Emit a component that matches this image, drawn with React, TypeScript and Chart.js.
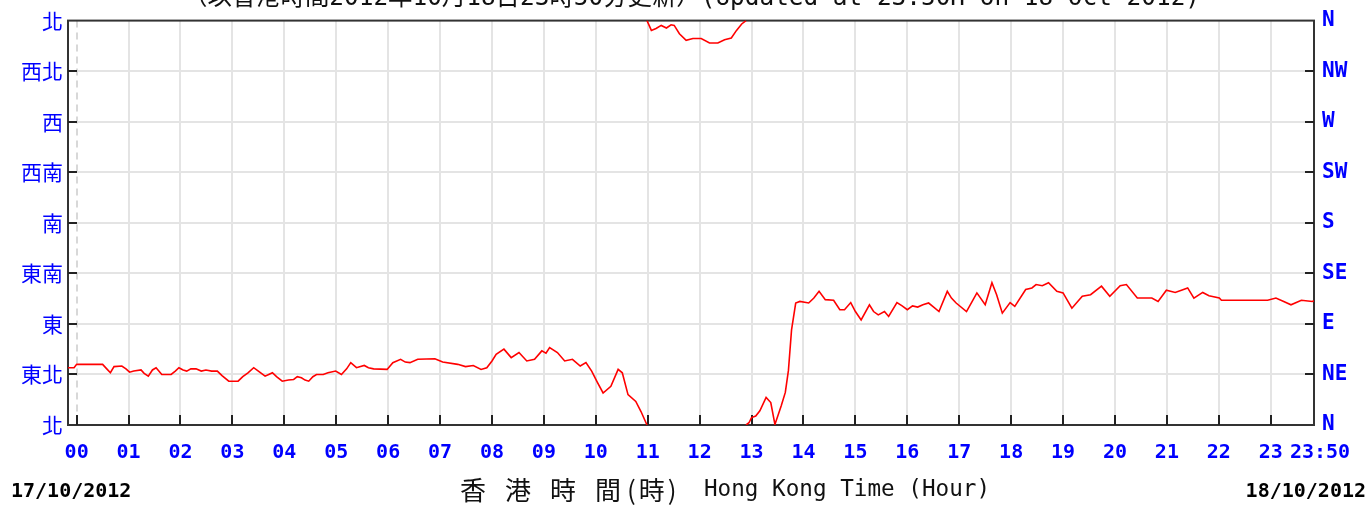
import React, { useEffect, useRef } from 'react';
import { Chart, registerables } from 'chart.js';

Chart.register(...registerables);

// Time (hours from 00:00 on 17/10/2012) and wind direction (degrees)
const HOURS = [
  -0.17, -0.05, 0.0, 0.25, 0.5, 0.58, 0.65, 0.72, 0.87, 0.95, 1.02, 1.1, 1.24, 1.3, 1.38, 1.46, 1.53, 1.64, 1.82, 1.9,
  1.97, 2.05, 2.12, 2.2, 2.3, 2.4, 2.49, 2.6, 2.71, 2.8, 2.93, 3.11, 3.2, 3.3, 3.41, 3.5, 3.63, 3.7, 3.77, 3.85,
  3.96, 4.08, 4.18, 4.25, 4.33, 4.4, 4.47, 4.55, 4.62, 4.75, 4.84, 4.99, 5.1, 5.2, 5.28, 5.39, 5.54, 5.62, 5.72, 5.98,
  6.09, 6.24, 6.33, 6.42, 6.57, 6.9, 7.05, 7.34, 7.49, 7.64, 7.79, 7.9, 8.0, 8.08, 8.23, 8.37, 8.52, 8.67, 8.82, 8.96,
  9.04, 9.11, 9.26, 9.4, 9.55, 9.7, 9.81, 9.92, 10.03, 10.14, 10.29, 10.43, 10.51, 10.62, 10.77, 10.87,
  11.07, 11.16, 11.26, 11.36, 11.45, 11.51, 11.61, 11.74, 11.87, 12.03, 12.19, 12.35, 12.48, 12.61, 12.71, 12.81,
  12.95, 13.0, 13.08, 13.16, 13.28, 13.37, 13.45, 13.57, 13.65, 13.71, 13.77, 13.85, 13.93, 14.1, 14.2, 14.3, 14.42,
  14.58, 14.7, 14.79, 14.91, 15.0, 15.11, 15.27, 15.35, 15.44, 15.56, 15.64, 15.8, 15.9, 16.0, 16.1, 16.2, 16.3,
  16.41, 16.49, 16.61, 16.77, 16.85, 16.94, 17.14, 17.25, 17.34, 17.5, 17.63, 17.72, 17.83, 17.98, 18.07, 18.28,
  18.4, 18.48, 18.6, 18.72, 18.88, 19.0, 19.17, 19.37, 19.53, 19.74, 19.9, 20.1, 20.22, 20.43, 20.71, 20.83, 20.99,
  21.16, 21.28, 21.4, 21.52, 21.69, 21.81, 22.01, 22.05, 22.54, 22.94, 23.1, 23.25, 23.39, 23.59, 23.8, 23.83,
];

const DIRECTIONS = [
  51, 51, 54, 54, 54, 50, 46.5, 52, 52.5, 50, 47, 48, 49, 46, 43.5, 49, 51, 45, 45, 48,
  51, 49, 48, 50, 50, 48, 49, 48, 48, 44, 39, 39, 43, 46.5, 51, 48, 43.5, 45, 46.5, 43,
  39, 40, 40.5, 43, 42, 40, 39, 43, 45, 45, 46.5, 48, 45, 50, 55.5, 51, 53, 51, 50, 49.5,
  55.5, 58.5, 56, 55.5, 58.5, 59, 56, 54, 52, 53, 49.5, 51, 57, 63, 67.5, 60, 64.5, 57, 58.5, 66,
  64, 69, 64.5, 57, 58.5, 52.5, 55.5, 48, 38, 28.5, 34.5, 49.5, 46.5, 27, 21, 12,
  351.3, 353, 355.7, 353.4, 356.3, 355.7, 348.3, 342.5, 344, 344, 340, 340, 343, 344.5, 351.3, 357,
  2, 6.6, 8, 12.6, 24.6, 20, 0.5, 17, 29, 48.6, 84.6, 108.6, 110, 108.6, 113, 119, 111.6,
  111, 102.6, 102.6, 109, 101, 93.6, 107, 101, 98, 101, 96.6, 109, 106, 102.6, 106, 105, 107,
  108.6, 105.6, 101, 119, 113, 108.6, 101, 110, 117.6, 107, 126.6, 116, 99.6, 109, 105.6, 120.6,
  122, 125, 124, 126.6, 119, 117.6, 104, 114.6, 116, 123.6, 114.6, 124, 125, 113, 113, 110, 120,
  118, 120, 122, 113, 118, 115, 113, 111, 111, 111, 113, 110, 107, 111, 110, 110.5,
];

const X_MIN = -10 / 60;
const X_MAX = 23 + 50 / 60;
const X_TICKS = [0, 1, 2, 3, 4, 5, 6, 7, 8, 9, 10, 11, 12, 13, 14, 15, 16, 17, 18, 19, 20, 21, 22, 23, 23 + 50 / 60];
const X_TICK_LABELS = [
  '00', '01', '02', '03', '04', '05', '06', '07', '08', '09', '10', '11',
  '12', '13', '14', '15', '16', '17', '18', '19', '20', '21', '22', '23', ' 23:50',
];
const LEFT_LABELS = ['北', '東北', '東', '東南', '南', '西南', '西', '西北', '北'];
const RIGHT_LABELS = ['N', 'NE', 'E', 'SE', 'S', 'SW', 'W', 'NW', 'N'];
const DIR_STEP = 45;

const TITLE = '（以香港時間2012年10月18日23時50分更新）(Updated at 23:50H on 18 Oct 2012)';
const START_DATE = '17/10/2012';
const END_DATE = '18/10/2012';
const AXIS_TITLE_ZH_MAIN = '香港時間';
const AXIS_TITLE_ZH_UNIT = '(時)';
const AXIS_TITLE_EN = 'Hong Kong Time (Hour)';

const BLUE = '#0000ff';
const MONO = '"DejaVu Sans Mono", "Noto Sans CJK TC", monospace';
const CJK = '"Noto Sans CJK TC", "Noto Sans CJK SC", sans-serif';

function buildPoints() {
  const pts: { x: number; y: number | null }[] = [];
  for (let i = 0; i < HOURS.length; i++) {
    if (i > 0) {
      const d0 = DIRECTIONS[i - 1];
      const d1 = DIRECTIONS[i];
      const diff = d1 - d0;
      if (Math.abs(diff) > 180) {
        const h0 = HOURS[i - 1];
        const h1 = HOURS[i];
        const unwrapped = diff > 0 ? d1 - 360 : d1 + 360;
        const edge = diff > 0 ? 0 : 360;
        const t = (edge - d0) / (unwrapped - d0);
        const hc = h0 + t * (h1 - h0);
        pts.push({ x: hc, y: edge }, { x: hc, y: null }, { x: hc, y: 360 - edge });
      }
    }
    pts.push({ x: HOURS[i], y: DIRECTIONS[i] });
  }
  return pts;
}

const framePlugin = {
  id: 'frameAndGrid',
  beforeDatasetsDraw(chart: any) {
    const { ctx, chartArea: a, scales } = chart;
    const xs = scales.x;
    const ys = scales.y;
    ctx.save();
    // horizontal grid
    ctx.strokeStyle = '#e4e4e4';
    ctx.lineWidth = 2;
    for (let v = DIR_STEP; v < 360; v += DIR_STEP) {
      const y = Math.round(ys.getPixelForValue(v));
      ctx.beginPath();
      ctx.moveTo(a.left, y);
      ctx.lineTo(a.right, y);
      ctx.stroke();
    }
    // vertical grid
    for (let h = 0; h <= 23; h++) {
      const x = Math.round(xs.getPixelForValue(h));
      ctx.setLineDash(h === 0 ? [7, 5] : []);
      ctx.strokeStyle = h === 0 ? '#d8d8d8' : '#e4e4e4';
      ctx.beginPath();
      ctx.moveTo(x, a.top);
      ctx.lineTo(x, a.bottom);
      ctx.stroke();
    }
    ctx.setLineDash([]);
    // frame
    ctx.strokeStyle = '#333333';
    ctx.lineWidth = 2;
    ctx.strokeRect(a.left, a.top, a.right - a.left, a.bottom - a.top);
    // inside ticks
    ctx.strokeStyle = '#222222';
    for (let v = DIR_STEP; v < 360; v += DIR_STEP) {
      const y = Math.round(ys.getPixelForValue(v));
      ctx.beginPath();
      ctx.moveTo(a.left, y);
      ctx.lineTo(a.left + 9, y);
      ctx.moveTo(a.right - 9, y);
      ctx.lineTo(a.right, y);
      ctx.stroke();
    }
    for (let h = 0; h <= 23; h++) {
      const x = Math.round(xs.getPixelForValue(h));
      ctx.beginPath();
      ctx.moveTo(x, a.bottom);
      ctx.lineTo(x, a.bottom - 10);
      ctx.stroke();
    }
    ctx.restore();
  },
  afterDraw(chart: any) {
    const { ctx } = chart;
    ctx.save();
    // Title (partly cut at the top)
    ctx.fillStyle = '#111111';
    ctx.font = `25px ${MONO}`;
    ctx.textAlign = 'left';
    ctx.textBaseline = 'alphabetic';
    ctx.fillText(TITLE, 183, 5, 1017);

    // Dates
    ctx.font = `bold 20px ${MONO}`;
    ctx.textBaseline = 'middle';
    ctx.fillStyle = '#000000';
    ctx.textAlign = 'left';
    ctx.fillText(START_DATE, 11, 492, 121);
    ctx.textAlign = 'right';
    ctx.fillText(END_DATE, 1366, 492, 121);

    // Axis title
    ctx.textAlign = 'left';
    ctx.fillStyle = '#111111';
    ctx.font = `26px ${CJK}`;
    (ctx as any).letterSpacing = '19px';
    ctx.fillText(AXIS_TITLE_ZH_MAIN, 460, 490);
    (ctx as any).letterSpacing = '3px';
    ctx.fillText(AXIS_TITLE_ZH_UNIT, 627, 490);
    (ctx as any).letterSpacing = '0px';
    ctx.font = `23px ${MONO}`;
    ctx.fillText(AXIS_TITLE_EN, 704, 490, 286);
    ctx.restore();
  },
};

export default function App() {
  const ref = useRef<HTMLCanvasElement | null>(null);

  useEffect(() => {
    if (!ref.current) return;
    const chart = new Chart(ref.current, {
      type: 'line',
      data: {
        datasets: [
          {
            data: buildPoints() as any,
            borderColor: '#ff0000',
            borderWidth: 1.6,
            pointRadius: 0,
            tension: 0,
            spanGaps: false,
          },
        ],
      },
      options: {
        responsive: true,
        maintainAspectRatio: false,
        animation: false,
        layout: { padding: { top: 18, left: 0, right: 0, bottom: 0 } },
        plugins: {
          legend: { display: false },
          tooltip: { enabled: false },
          title: { display: false },
        },
        scales: {
          x: {
            type: 'linear',
            min: X_MIN,
            max: X_MAX,
            grid: { display: false, drawTicks: false },
            border: { display: false },
            afterBuildTicks: (s: any) => {
              s.ticks = X_TICKS.map((v) => ({ value: v }));
            },
            afterFit: (s: any) => {
              s.height = 83;
            },
            ticks: {
              autoSkip: false,
              maxRotation: 0,
              minRotation: 0,
              padding: 16,
              color: BLUE,
              font: { family: MONO, size: 20, weight: 'bold' },
              callback: (_v: any, i: number) => X_TICK_LABELS[i],
            },
          },
          y: {
            position: 'left',
            min: 0,
            max: 360,
            grid: { display: false, drawTicks: false },
            border: { display: false },
            afterFit: (s: any) => {
              s.width = 68;
            },
            ticks: {
              stepSize: DIR_STEP,
              padding: 5,
              color: BLUE,
              font: { family: CJK, size: 21 },
              callback: (v: any) => LEFT_LABELS[Math.round(Number(v) / DIR_STEP)],
            },
          },
          y2: {
            position: 'right',
            min: 0,
            max: 360,
            grid: { display: false, drawTicks: false },
            border: { display: false },
            afterFit: (s: any) => {
              s.width = 56;
            },
            ticks: {
              stepSize: DIR_STEP,
              padding: 8,
              color: BLUE,
              font: { family: MONO, size: 21, weight: 'bold' },
              callback: (v: any) => RIGHT_LABELS[Math.round(Number(v) / DIR_STEP)],
            },
          },
        },
      } as any,
      plugins: [framePlugin],
    });
    return () => chart.destroy();
  }, []);

  return (
    <div style={{ position: 'fixed', left: 0, top: 0, width: 1370, height: 508, background: '#ffffff' }}>
      <canvas ref={ref} />
    </div>
  );
}
